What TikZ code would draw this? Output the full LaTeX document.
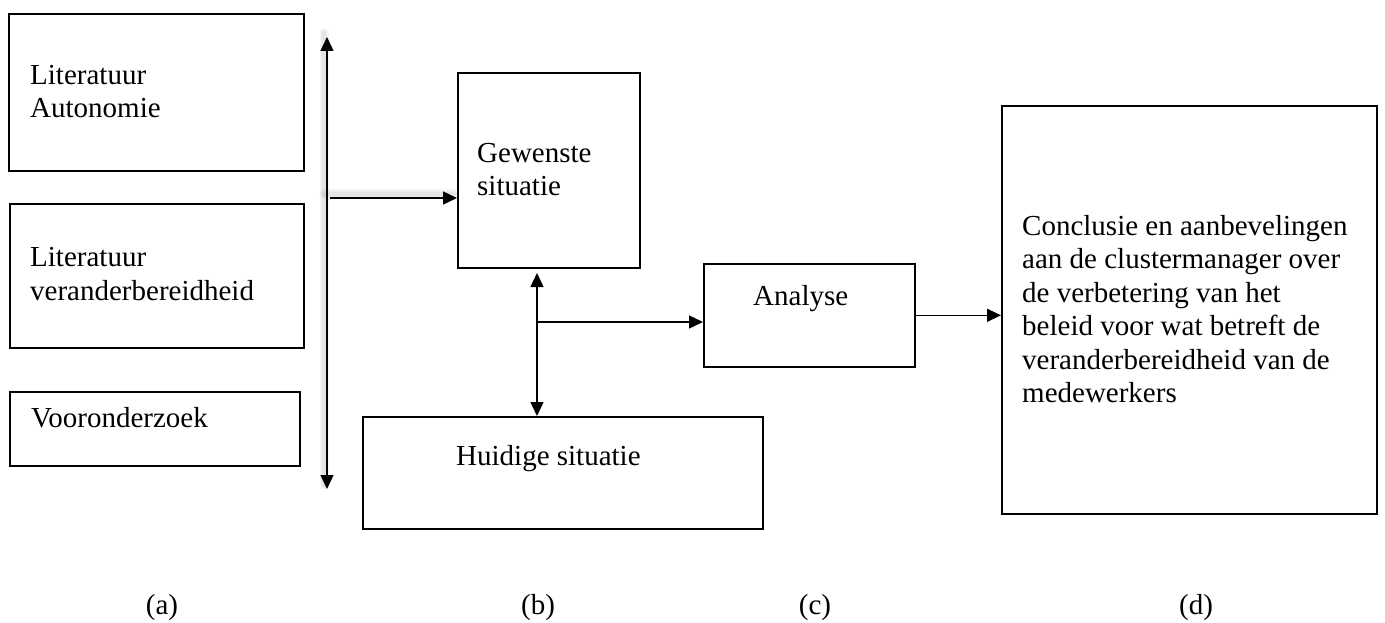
\documentclass[tikz,border=0pt]{standalone}
\usepackage{fontspec}
\setmainfont{Liberation Serif}
\usetikzlibrary{arrows.meta}
\begin{document}
\begin{tikzpicture}[x=1pt,y=-1pt,
  >={Triangle[length=14pt,width=13pt]},
  frame/.style={draw, line width=1.6pt, inner sep=0pt, anchor=north west},
  % multi-line texts are placed by the baseline of their last line
  txt/.style={anchor=base west, inner sep=0pt, align=left,
    font=\fontsize{29}{33.5}\selectfont},
  caption/.style={anchor=base, inner sep=0pt, font=\fontsize{29}{33.5}\selectfont},
  conn/.style={line width=1.4pt, ->},
  twoway/.style={line width=1.4pt, <->},
  haze/.style={line width=#1, draw=black!45, opacity=0.08, line cap=round,
    transform canvas={shift={(-3pt,4pt)}}}]
\useasboundingbox[fill=white] (0,0) rectangle (1385,623);

% column (a): sources
\node[frame, minimum width=295pt, minimum height=157pt] (lit1) at (8,13) {};
\node[frame, minimum width=294pt, minimum height=144pt] (lit2) at (9,203) {};
\node[frame, minimum width=290pt, minimum height=74pt] (voor) at (9,391) {};
\node[txt] at (30,118) {Literatuur\\Autonomie};
\node[txt] at (30,300) {Literatuur\\veranderbereidheid};
\node[txt] at (31,427) {Vooronderzoek};

% column (b): desired and current situation
\node[frame, minimum width=182pt, minimum height=195pt] (gew) at (457,72) {};
\node[txt] at (477,196) {Gewenste\\situatie};
\node[frame, minimum width=400pt, minimum height=112pt] (hui) at (362,416) {};
\node[txt] at (456,465) {Huidige situatie};

% column (c): analysis
\node[frame, minimum width=211pt, minimum height=103pt] (ana) at (703,263) {};
\node[txt] at (753,305) {Analyse};

% column (d): conclusion
\node[frame, minimum width=375pt, minimum height=408pt] (conc) at (1001,105) {};
\node[txt] at (1022,402.5) {Conclusie en aanbevelingen\\aan de clustermanager over\\de verbetering van het\\beleid voor wat betreft de\\veranderbereidheid van de\\medewerkers};

% vertical collector line with its soft shadow
\coordinate (vtop) at (327,37);
\coordinate (vbot) at (327,489);
\coordinate (vmid) at (327,198);
\foreach \w in {9pt,6pt,3.5pt} {
  \draw[haze=\w] (vtop) -- (vbot);
  \draw[haze=\w] (vmid) -- (vmid -| gew.west);
}
\draw[twoway] (vtop) -- (vbot);
\draw[conn] ([xshift=3pt]vmid) -- (vmid -| gew.west);

% link between desired and current situation, feeding the analysis
\coordinate (dtop) at (537,273);
\coordinate (junc) at (537,322);
\draw[twoway] (dtop) -- (dtop |- hui.north);
\draw[conn] (junc) -- (junc -| ana.west);
\draw[conn] (ana.east) -- (ana.east -| conc.west);

% captions
\node[caption] (ca) at (162,614) {(a)};
\node[caption] (cb) at (538,614) {(b)};
\node[caption] (cc) at (815,614) {(c)};
\node[caption] (cd) at (1196,614) {(d)};
\end{tikzpicture}
\end{document}
